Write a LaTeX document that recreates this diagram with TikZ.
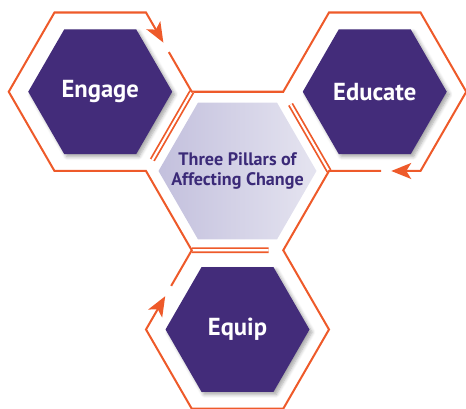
\documentclass[tikz,border=0pt]{standalone}
\usepackage{fontspec}
\setmainfont{PT Sans}
\usetikzlibrary{arrows.meta,positioning,shapes.geometric,calc,shadows.blur}
\definecolor{Pillar}{HTML}{432C7A}
\definecolor{Loop}{HTML}{EE5A2A}
\definecolor{HubL}{HTML}{C3C0DD}
\definecolor{HubR}{HTML}{E5E4F0}
\definecolor{HubText}{HTML}{3B2A78}

\begin{document}
\begin{tikzpicture}[
  hexpillar/.style={regular polygon,regular polygon sides=6,minimum size=2.88cm,inner sep=0pt,fill=Pillar,text=white,font=\fontsize{14}{16}\selectfont\bfseries,blur shadow={shadow xshift=1.5pt,shadow yshift=-1.5pt,shadow blur steps=6,shadow opacity=35}},
  hexhub/.style={regular polygon,regular polygon sides=6,minimum size=3.16cm,inner sep=0pt,left color=HubL,right color=HubR},
  hubtext/.style={text=HubText,align=center,font=\fontsize{10.3}{11.6}\selectfont\bfseries},
  loop/.style={draw=Loop,line width=1.15pt,-{Stealth[length=4mm,width=3.2mm,inset=1mm]}},
  shared/.style={draw=Loop,line width=1pt,double=white,double distance=1.2pt}
]
\useasboundingbox (0,0) rectangle (9.32,8.18);
\node[hexhub] (hub) at (4.75,4.76) {};
\node[hubtext] (title) at (hub) {Three Pillars of\\Affecting Change};
\node[hexpillar] (engage) at ($(hub)+(150:3.17)$) {Engage};
\node[hexpillar] (educate) at ($(hub)+(30:3.17)$) {Educate};
\node[hexpillar] (equip) at ($(hub)+(270:3.17)$) {Equip};
% corners of the orange frames
\foreach \h in {hub,engage,educate,equip}
  \foreach \a [count=\i] in {0,60,...,300}
    \coordinate (\h-\i) at ($(\h)+(\a:1.83)$);
% shared sides
\draw[shared] (hub-3) -- ($(hub-3)!0.86!(hub-4)$);
\draw[shared] (hub-1) -- ($(hub-1)!0.84!(hub-2)$);
\draw[shared] (hub-5) -- ($(hub-5)!0.84!(hub-6)$);
% outer loop
\draw[loop] ($(engage-2)!0.5!(engage-1)$) -- (engage-1) -- (hub-2) -- (educate-3) -- (educate-2) -- (educate-1) -- (educate-6) -- ($(educate-6)!0.32!(educate-5)$);
\draw[loop] ($(educate-6)!0.43!(educate-5)$) -- (educate-5) -- (hub-6) -- (equip-1) -- (equip-6) -- (equip-5) -- (equip-4) -- ($(equip-4)!0.42!(equip-3)$);
\draw[loop] ($(equip-4)!0.55!(equip-3)$) -- (equip-3) -- (hub-4) -- (engage-5) -- (engage-4) -- (engage-3) -- (engage-2) -- ($(engage-2)!0.38!(engage-1)$);
\end{tikzpicture}
\end{document}
